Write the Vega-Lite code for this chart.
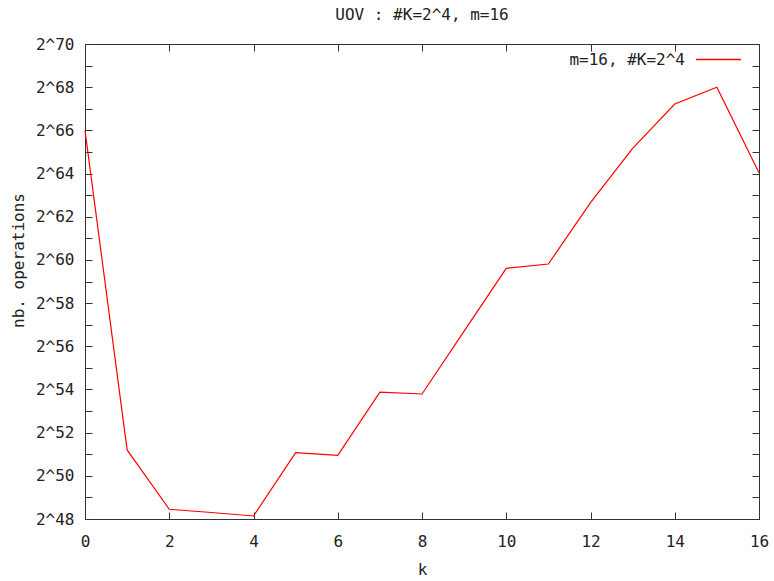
{
  "$schema": "https://vega.github.io/schema/vega-lite/v6.json",
  "autosize": "none",
  "width": 674,
  "height": 475,
  "padding": {"left": 85, "top": 44, "right": 15, "bottom": 62},
  "background": "white",
  "title": {"text": "UOV : #K=2^4, m=16", "font": "DejaVu Sans Mono", "fontSize": 16, "fontWeight": "normal", "color": "#222", "offset": 13, "anchor": "middle"},
  "config": {
    "view": {"stroke": "#333", "strokeWidth": 1},
    "axis": {"grid": false, "domainColor": "#333", "tickColor": "#333", "labelFont": "DejaVu Sans Mono", "labelFontSize": 16, "labelColor": "#222", "titleFont": "DejaVu Sans Mono", "titleFontSize": 16, "titleFontWeight": "normal", "titleColor": "#222"},
    "legend": {"labelFont": "DejaVu Sans Mono", "labelFontSize": 16, "labelColor": "#222"}
  },
  "data": {"values": [
    {"k": 0, "ops": 66.0},
    {"k": 1, "ops": 51.2},
    {"k": 2, "ops": 48.45},
    {"k": 3, "ops": 48.3},
    {"k": 4, "ops": 48.14},
    {"k": 5, "ops": 51.07},
    {"k": 6, "ops": 50.95},
    {"k": 7, "ops": 53.88},
    {"k": 8, "ops": 53.79},
    {"k": 9, "ops": 56.7},
    {"k": 10, "ops": 59.61},
    {"k": 11, "ops": 59.81},
    {"k": 12, "ops": 62.65},
    {"k": 13, "ops": 65.17},
    {"k": 14, "ops": 67.22},
    {"k": 15, "ops": 68.0},
    {"k": 16, "ops": 64.04}
  ]},
  "resolve": {"axis": {"x": "independent", "y": "independent"}},
  "layer": [
    {
      "mark": {"type": "line", "strokeWidth": 1.2},
      "encoding": {
        "x": {"field": "k", "type": "quantitative", "scale": {"domain": [0, 16], "nice": false},
          "axis": {"orient": "bottom", "title": "k", "values": [0,2,4,6,8,10,12,14,16], "tickSize": -7, "labelPadding": 21, "titlePadding": 12, "labelFlush": false}},
        "y": {"field": "ops", "type": "quantitative", "scale": {"domain": [48, 70], "nice": false, "zero": false},
          "axis": {"orient": "left", "title": "nb. operations", "values": [48,49,50,51,52,53,54,55,56,57,58,59,60,61,62,63,64,65,66,67,68,69,70],
            "labelExpr": "datum.value % 2 === 0 ? '2^' + datum.value : ''", "tickSize": -7, "labelPadding": 18,
            "titleAngle": -90, "titleX": -67, "titleY": 216, "titleAlign": "center", "titleBaseline": "middle",
            "encode": {"ticks": {"update": {"x2": {"signal": "datum.value % 2 === 0 ? 7 : 4"}}}}}},
        "color": {"datum": "m=16, #K=2^4", "type": "nominal", "scale": {"range": ["#ff0000"]},
          "legend": {"title": null, "orient": "none", "legendX": 610, "legendY": -8, "symbolType": "stroke", "symbolSize": 2025, "symbolStrokeWidth": 1.5, "labelAlign": "right", "labelOffset": -57, "padding": 0}}
      }
    },
    {
      "mark": {"type": "line", "strokeOpacity": 0},
      "encoding": {
        "x": {"field": "k", "type": "quantitative",
          "axis": {"orient": "top", "title": null, "labels": false, "values": [0,2,4,6,8,10,12,14,16], "tickSize": -7}},
        "y": {"field": "ops", "type": "quantitative",
          "axis": {"orient": "right", "title": null, "labels": false, "values": [48,49,50,51,52,53,54,55,56,57,58,59,60,61,62,63,64,65,66,67,68,69,70], "tickSize": -7,
            "encode": {"ticks": {"update": {"x2": {"signal": "datum.value % 2 === 0 ? -7 : -4"}}}}}}
      }
    }
  ]
}
